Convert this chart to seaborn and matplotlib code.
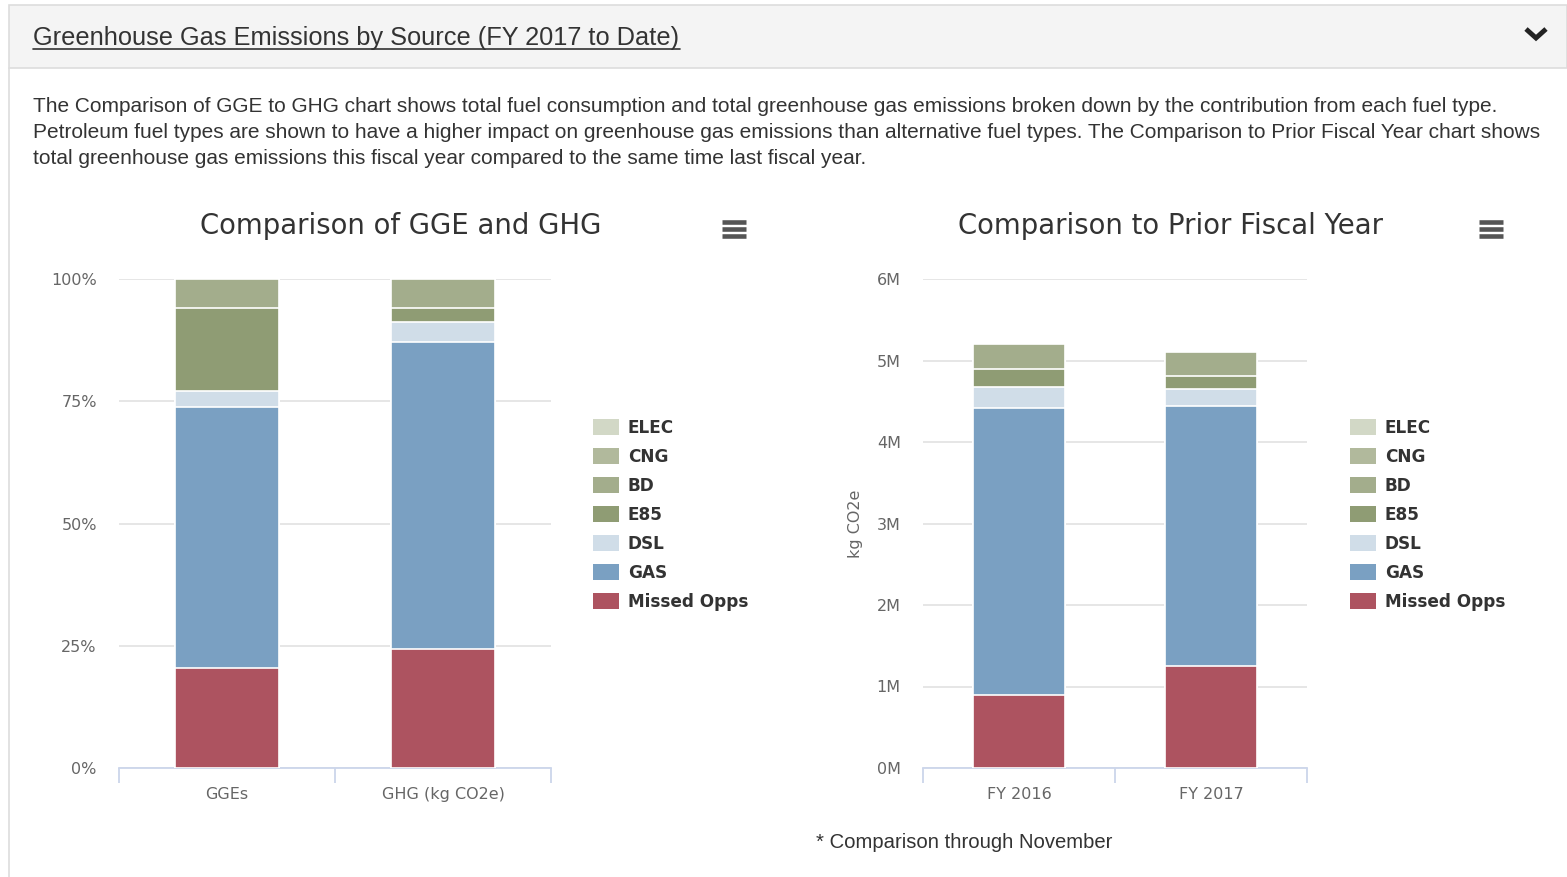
import matplotlib
matplotlib.use("Agg")
import matplotlib.pyplot as plt
from matplotlib.patches import Rectangle, Patch
from matplotlib.lines import Line2D
import seaborn as sns
import pandas as pd
import numpy as np

sns.set_theme(style="white")
plt.rcParams['font.family'] = ['DejaVu Sans']

# ---------------- data ----------------
sources = ["Missed Opps", "GAS", "DSL", "E85", "BD", "CNG", "ELEC"]  # bottom -> top
colors = {"ELEC": "#d2d8c6", "CNG": "#b1b99c", "BD": "#a3ad8c", "E85": "#8f9c74",
          "DSL": "#d0dde8", "GAS": "#7aa0c2", "Missed Opps": "#ad5360"}

left_cats = ["GGEs", "GHG (kg CO2e)"]
left_missed = [20.4, 24.3]
left_gas = [53.4, 62.8]
left_dsl = [3.3, 4.1]
left_e85 = [17.0, 2.9]
left_bd = [5.9, 5.9]
left_cng = [0.0, 0.0]
left_elec = [0.0, 0.0]

right_cats = ["FY 2016", "FY 2017"]
right_missed = [0.90e6, 1.25e6]
right_gas = [3.52e6, 3.19e6]
right_dsl = [0.25e6, 0.21e6]
right_e85 = [0.23e6, 0.16e6]
right_bd = [0.30e6, 0.29e6]
right_cng = [0.0, 0.0]
right_elec = [0.0, 0.0]

W, H = 1567, 877
fig = plt.figure(figsize=(W / 100, H / 100), dpi=100)
fig.patch.set_facecolor("white")

def fx(x): return x / W
def fy(y): return 1 - y / H

# ---------------- page chrome ----------------
fig.patches.append(Rectangle((fx(9), fy(68)), fx(W - 9), 63 / H, transform=fig.transFigure,
                             facecolor="#f4f4f4", edgecolor="#dddddd", lw=1.2, zorder=0))
fig.lines.append(Line2D([fx(9), fx(9)], [fy(68), 0], transform=fig.transFigure, color="#dddddd", lw=1.2))
fig.text(fx(33), fy(38), "Greenhouse Gas Emissions by Source (FY 2017 to Date)",
         fontsize=18.3, family="Liberation Sans", color="#333333", va="center", ha="left")
fig.lines.append(Line2D([fx(33), fx(680)], [fy(49), fy(49)], transform=fig.transFigure, color="#333333", lw=1.2))
# chevron
fig.lines.append(Line2D([fx(1526), fx(1536), fx(1546)], [fy(29), fy(38), fy(29)], transform=fig.transFigure,
                        color="#222222", lw=3.5, solid_capstyle="butt", solid_joinstyle="miter"))

para = ("The Comparison of GGE to GHG chart shows total fuel consumption and total greenhouse gas emissions broken down by the contribution from each fuel type.\n"
        "Petroleum fuel types are shown to have a higher impact on greenhouse gas emissions than alternative fuel types. The Comparison to Prior Fiscal Year chart shows\n"
        "total greenhouse gas emissions this fiscal year compared to the same time last fiscal year.")
fig.text(fx(33), fy(97), para, fontsize=15.0, family="Liberation Sans", color="#333333",
         va="top", ha="left", linespacing=1.45)

# ---------------- helper for stacked bars ----------------
def stacked(ax, cats, series):
    vals = np.array(series)  # bottom->top
    cum = np.cumsum(vals, axis=0)
    for i in range(len(sources) - 1, -1, -1):
        df = pd.DataFrame({"cat": cats, "val": cum[i]})
        sns.barplot(data=df, x="cat", y="val", order=cats, color=colors[sources[i]],
                    saturation=1, width=0.48, edgecolor="white", linewidth=1.2, ax=ax, zorder=3)

def style(ax):
    for s in ["top", "right", "left"]:
        ax.spines[s].set_visible(False)
    ax.spines["bottom"].set_color("#ccd6eb")
    ax.spines["bottom"].set_linewidth(1.3)
    ax.set_xlim(-0.5, 1.5)
    ax.set_xlabel("")
    ax.yaxis.grid(True, color="#e6e6e6", lw=1.4, zorder=0)
    ax.xaxis.grid(False)
    ax.set_axisbelow(True)
    ax.tick_params(axis="y", length=0, pad=16, labelsize=11.5, labelcolor="#666666")
    ax.tick_params(axis="x", which="major", length=0, pad=14, labelsize=11.5, labelcolor="#666666")
    ax.set_xticks([-0.5, 0.5, 1.5], minor=True)
    ax.tick_params(axis="x", which="minor", bottom=True, length=11, width=1.3, color="#ccd6eb")
    for lab in ax.get_yticklabels():
        lab.set_ha("right")

def legend(x0):
    order = ["ELEC", "CNG", "BD", "E85", "DSL", "GAS", "Missed Opps"]
    handles = [Patch(facecolor=colors[k], edgecolor="none", label=k) for k in order]
    leg = fig.legend(handles=handles, loc="upper left", bbox_to_anchor=(fx(x0), fy(419)),
                     frameon=False, prop={"size": 12.2, "weight": "bold", "family": "DejaVu Sans"},
                     handlelength=1.55, handleheight=1.05, handletextpad=0.5, labelspacing=0.65,
                     borderpad=0, borderaxespad=0)
    for t in leg.get_texts():
        t.set_color("#333333")

def hamburger(xc, yc):
    for dy in (-7, 0, 7):
        fig.lines.append(Line2D([fx(xc - 12), fx(xc + 12)], [fy(yc + dy), fy(yc + dy)],
                                transform=fig.transFigure, color="#555555", lw=3.3, solid_capstyle="butt"))

# ---------------- left chart ----------------
axL = fig.add_axes([fx(119), fy(768), fx(551 - 119), 489 / H])
stacked(axL, left_cats, [left_missed, left_gas, left_dsl, left_e85, left_bd, left_cng, left_elec])
style(axL)
axL.set_ylim(0, 100)
axL.set_yticks([0, 25, 50, 75, 100])
axL.set_yticklabels(["0%", "25%", "50%", "75%", "100%"])
axL.set_ylabel("")
fig.text(fx(401), fy(226), "Comparison of GGE and GHG", fontsize=19.8, color="#333333",
         ha="center", va="center", family="DejaVu Sans")
legend(593)
hamburger(734, 229)

# ---------------- right chart ----------------
axR = fig.add_axes([fx(923), fy(768), fx(1307 - 923), 489 / H])
stacked(axR, right_cats, [right_missed, right_gas, right_dsl, right_e85, right_bd, right_cng, right_elec])
style(axR)
axR.set_ylim(0, 6e6)
axR.set_yticks([0, 1e6, 2e6, 3e6, 4e6, 5e6, 6e6])
axR.set_yticklabels(["0M", "1M", "2M", "3M", "4M", "5M", "6M"])
axR.set_ylabel("kg CO2e", fontsize=11.5, color="#666666", labelpad=10)
fig.text(fx(1170), fy(226), "Comparison to Prior Fiscal Year", fontsize=19.8, color="#333333",
         ha="center", va="center", family="DejaVu Sans")
legend(1350)
hamburger(1491, 229)

fig.text(fx(964), fy(843), "* Comparison through November", fontsize=14.6, family="Liberation Sans",
         color="#333333", ha="center", va="center")

fig.savefig("out.png", dpi=100, facecolor="white")
